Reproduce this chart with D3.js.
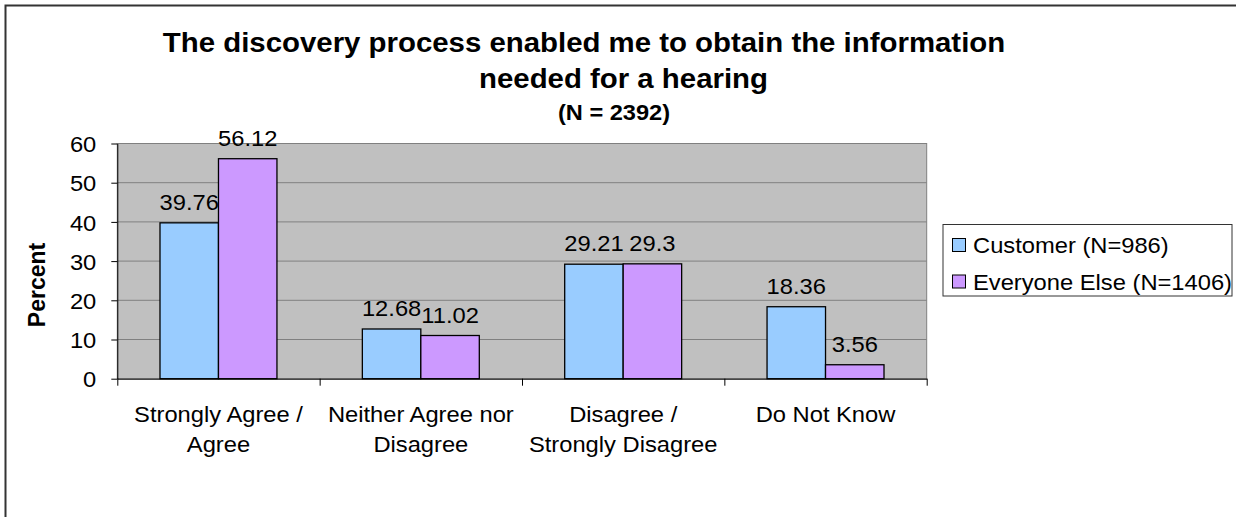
<!DOCTYPE html>
<html>
<meta charset="utf-8">
<style>
body { margin: 0; background: #fff; }
text { font-family: "Liberation Sans", Arial, sans-serif; fill: #000; }
.axis path, .axis line { stroke: #000; }
</style>
<body>
<svg width="1236" height="517"></svg>
<script src="https://d3js.org/d3.v7.min.js"></script>
<script>
// chart values
var categories = ["Strongly Agree / Agree", "Neither Agree nor Disagree", "Disagree / Strongly Disagree", "Do Not Know"];
var categoryLines = [["Strongly Agree /", "Agree"], ["Neither Agree nor", "Disagree"], ["Disagree /", "Strongly Disagree"], ["Do Not Know"]];
var seriesNames = ["Customer (N=986)", "Everyone Else (N=1406)"];
var customer = [39.76, 12.68, 29.21, 18.36];
var everyoneElse = [56.12, 11.02, 29.3, 3.56];
var yTicks = [0, 10, 20, 30, 40, 50, 60];
var colors = ["#99CCFF", "#CC99FF"];

var S = 1.05; // text in the picture is a little wide
var FS = 22.6;

var svg = d3.select("svg");
var plot = {left: 117.3, right: 926.7, top: 143.5, bottom: 378.7};

function label(parent, x, y, str, size, anchor, bold) {
  return parent.append("text")
    .attr("transform", "translate(" + x + "," + y + ") scale(" + S + ",1)")
    .attr("text-anchor", anchor || "middle")
    .style("font-size", size + "px")
    .style("font-weight", bold ? "bold" : "normal")
    .text(str);
}

// outer frame
svg.append("rect")
  .attr("x", 5.5).attr("y", 5.5)
  .attr("width", 1300).attr("height", 600)
  .attr("fill", "none").attr("stroke", "#333").attr("stroke-width", 2);

var x = d3.scaleBand().domain(categories).range([plot.left, plot.right]).padding(0);
var bw = x.bandwidth();
var x1 = d3.scaleBand().domain(seriesNames).range([bw * 0.211, bw * 0.789]).padding(0);
var y = d3.scaleLinear().domain([0, 60]).range([plot.bottom, plot.top]);

// plot background
svg.append("rect")
  .attr("x", plot.left).attr("y", plot.top)
  .attr("width", plot.right - plot.left).attr("height", plot.bottom - plot.top)
  .attr("fill", "#C0C0C0").attr("stroke", "#808080").attr("stroke-width", 1);

// gridlines
svg.append("g").selectAll("line")
  .data(yTicks.slice(1))
  .enter().append("line")
    .attr("x1", plot.left).attr("x2", plot.right)
    .attr("y1", function(d) { return y(d); })
    .attr("y2", function(d) { return y(d); })
    .attr("stroke", "#808080").attr("stroke-width", 1);

// bars
var rows = categories.map(function(c, i) {
  return {cat: c, vals: [customer[i], everyoneElse[i]]};
});
var groups = svg.append("g").selectAll("g")
  .data(rows)
  .enter().append("g")
    .attr("transform", function(d) { return "translate(" + x(d.cat) + ",0)"; });

groups.selectAll("rect")
  .data(function(d) { return d.vals.map(function(v, j) { return {name: seriesNames[j], v: v, j: j}; }); })
  .enter().append("rect")
    .attr("x", function(d) { return x1(d.name); })
    .attr("y", function(d) { return y(d.v); })
    .attr("width", x1.bandwidth())
    .attr("height", function(d) { return plot.bottom - y(d.v); })
    .attr("fill", function(d) { return colors[d.j]; })
    .attr("stroke", "#000").attr("stroke-width", 1.3);

groups.each(function(d) {
  var g = d3.select(this);
  d.vals.forEach(function(v, j) {
    label(g, x1(seriesNames[j]) + x1.bandwidth() / 2, y(v) - 13, String(v), FS);
  });
});

// y axis
var yAxis = svg.append("g")
  .attr("class", "axis")
  .attr("transform", "translate(" + plot.left + ",0)")
  .call(d3.axisLeft(y).tickValues(yTicks).tickSize(6).tickSizeOuter(0));
yAxis.selectAll("text")
  .style("font-size", FS + "px")
  .attr("x", -21 / S)
  .attr("dy", "0.36em")
  .attr("transform", "scale(" + S + ",1)");

// x axis, ticks on category edges
var xEdge = d3.scaleLinear().domain([0, categories.length]).range([plot.left, plot.right]);
svg.append("g")
  .attr("class", "axis")
  .attr("transform", "translate(0," + plot.bottom + ")")
  .call(d3.axisBottom(xEdge).ticks(categories.length).tickSize(7).tickSizeOuter(0).tickFormat(""));

categoryLines.forEach(function(lines, i) {
  lines.forEach(function(t, k) {
    label(svg, x(categories[i]) + bw / 2, 421.7 + k * 30, t, FS);
  });
});

// y axis title
svg.append("text")
  .attr("transform", "translate(45,285) rotate(-90) scale(1," + S + ")")
  .attr("text-anchor", "middle")
  .style("font-size", "23px")
  .style("font-weight", "bold")
  .text("Percent");

// titles
label(svg, 584, 52, "The discovery process enabled me to obtain the information", 28, "middle", true);
label(svg, 623.5, 88, "needed for a hearing", 28, "middle", true);
label(svg, 614, 120, "(N = 2392)", 22.5, "middle", true);

// legend
var legend = svg.append("g");
legend.append("rect")
  .attr("x", 943).attr("y", 224.5)
  .attr("width", 289).attr("height", 71.5)
  .attr("fill", "#fff").attr("stroke", "#333").attr("stroke-width", 1);
seriesNames.forEach(function(n, i) {
  legend.append("rect")
    .attr("x", 952.5).attr("y", 238.5 + i * 36.5)
    .attr("width", 13).attr("height", 13)
    .attr("fill", colors[i]).attr("stroke", "#000").attr("stroke-width", 1);
  label(legend, 973, 253 + i * 36.5, n, FS, "start");
});
</script>
</body>
</html>
